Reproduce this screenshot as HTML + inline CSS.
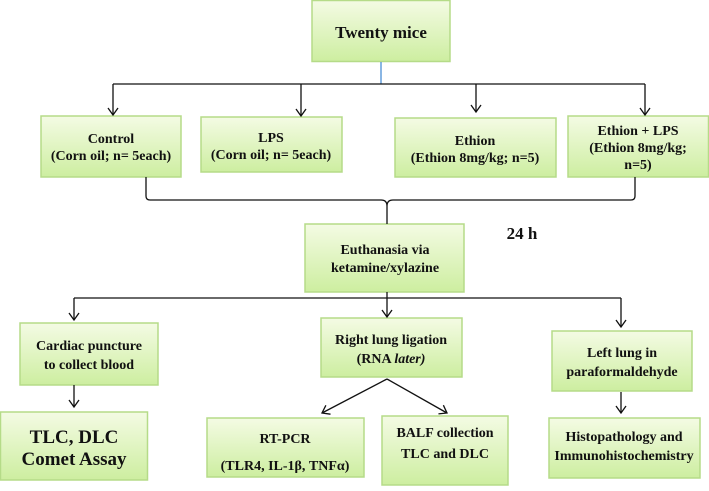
<!DOCTYPE html>
<html><head><meta charset="utf-8"><style>
html,body{margin:0;padding:0;background:#fff}
svg text{font-family:"Liberation Serif","Times New Roman",serif;font-weight:bold;fill:#111;text-anchor:middle}
</style></head><body>
<svg width="709" height="486" viewBox="0 0 709 486" xmlns="http://www.w3.org/2000/svg" font-family="Liberation Serif, serif">
<defs>
<linearGradient id="g" x1="0" y1="0" x2="0" y2="1">
<stop offset="0" stop-color="#f4fbe4"/><stop offset="1" stop-color="#cdeea0"/>
</linearGradient>
<marker id="b" markerWidth="12" markerHeight="12" refX="10" refY="6" orient="auto" markerUnits="userSpaceOnUse">
<path d="M3,1 L10,6 L3,11" fill="none" stroke="#111" stroke-width="1.3"/>
</marker>
</defs>
<g fill="url(#g)" stroke="#b5db88" stroke-width="1.5">
<rect x="312" y="0.5" width="138" height="61"/>
<rect x="41" y="116" width="140" height="61"/>
<rect x="201" y="117" width="141" height="55"/>
<rect x="395" y="118" width="161" height="59"/>
<rect x="568" y="116" width="140.5" height="61"/>
<rect x="305" y="224" width="159" height="68"/>
<rect x="20" y="323" width="138" height="62"/>
<rect x="0.5" y="412" width="147" height="68"/>
<rect x="321" y="318" width="141" height="59"/>
<rect x="207" y="418" width="157" height="59"/>
<rect x="382" y="416" width="126" height="69"/>
<rect x="552" y="331" width="140" height="60"/>
<rect x="549" y="418" width="151" height="60"/>
</g>
<g stroke="#111" stroke-width="1.3" fill="none">
<line x1="381" y1="62" x2="381" y2="84" stroke="#4a8fd6"/>
<line x1="113" y1="84" x2="645" y2="84"/>
<line x1="113" y1="84" x2="113" y2="115" marker-end="url(#b)"/>
<line x1="301" y1="84" x2="301" y2="116" marker-end="url(#b)"/>
<line x1="476" y1="84" x2="476" y2="112" marker-end="url(#b)"/>
<line x1="645" y1="84" x2="645" y2="115" marker-end="url(#b)"/>
<path d="M146,177 L146,196 Q146,200 150,200 L381,200 Q387,200 387,206 L387,224 M387,206 Q387,200 393,200 L631,200 Q635,200 635,196 L635,177"/>
<line x1="74" y1="298" x2="621" y2="298"/>
<line x1="74" y1="298" x2="74" y2="320" marker-end="url(#b)"/>
<line x1="387" y1="292" x2="387" y2="317" marker-end="url(#b)"/>
<line x1="621" y1="298" x2="621" y2="327" marker-end="url(#b)"/>
<line x1="74" y1="385" x2="74" y2="407" marker-end="url(#b)"/>
<line x1="621" y1="392" x2="621" y2="413" marker-end="url(#b)"/>
<line x1="387" y1="379" x2="322" y2="413" marker-end="url(#b)"/>
<line x1="387" y1="379" x2="447" y2="413" marker-end="url(#b)"/>
</g>
<text x="381" y="38" font-size="17">Twenty mice</text>
<text x="111" y="143" font-size="14">Control</text>
<text x="111" y="160" font-size="14">(Corn oil; n= 5each)</text>
<text x="271" y="142" font-size="14">LPS</text>
<text x="271" y="159" font-size="14">(Corn oil; n= 5each)</text>
<text x="475" y="145" font-size="14">Ethion</text>
<text x="475" y="162" font-size="14">(Ethion 8mg/kg; n=5)</text>
<text x="638" y="135" font-size="14">Ethion + LPS</text>
<text x="638" y="152" font-size="14">(Ethion 8mg/kg;</text>
<text x="638" y="169" font-size="14">n=5)</text>
<text x="522" y="239" font-size="17">24 h</text>
<text x="385" y="254" font-size="14">Euthanasia via</text>
<text x="385" y="272" font-size="14">ketamine/xylazine</text>
<text x="89" y="350" font-size="14">Cardiac puncture</text>
<text x="89" y="369" font-size="14">to collect blood</text>
<text x="74" y="443" font-size="19">TLC, DLC</text>
<text x="74" y="465" font-size="19">Comet Assay</text>
<text x="391" y="344" font-size="14">Right lung ligation</text>
<text x="391" y="363" font-size="14">(RNA <tspan font-style="italic">later)</tspan></text>
<text x="285" y="443" font-size="14">RT-PCR</text>
<text x="285" y="470" font-size="14">(TLR4, IL-1β, TNFα)</text>
<text x="445" y="437" font-size="14">BALF collection</text>
<text x="445" y="458" font-size="14">TLC and DLC</text>
<text x="622" y="357" font-size="14">Left lung in</text>
<text x="622" y="376" font-size="14">paraformaldehyde</text>
<text x="624" y="441" font-size="14">Histopathology and</text>
<text x="624" y="460" font-size="14">Immunohistochemistry</text>
</svg>
</body></html>
